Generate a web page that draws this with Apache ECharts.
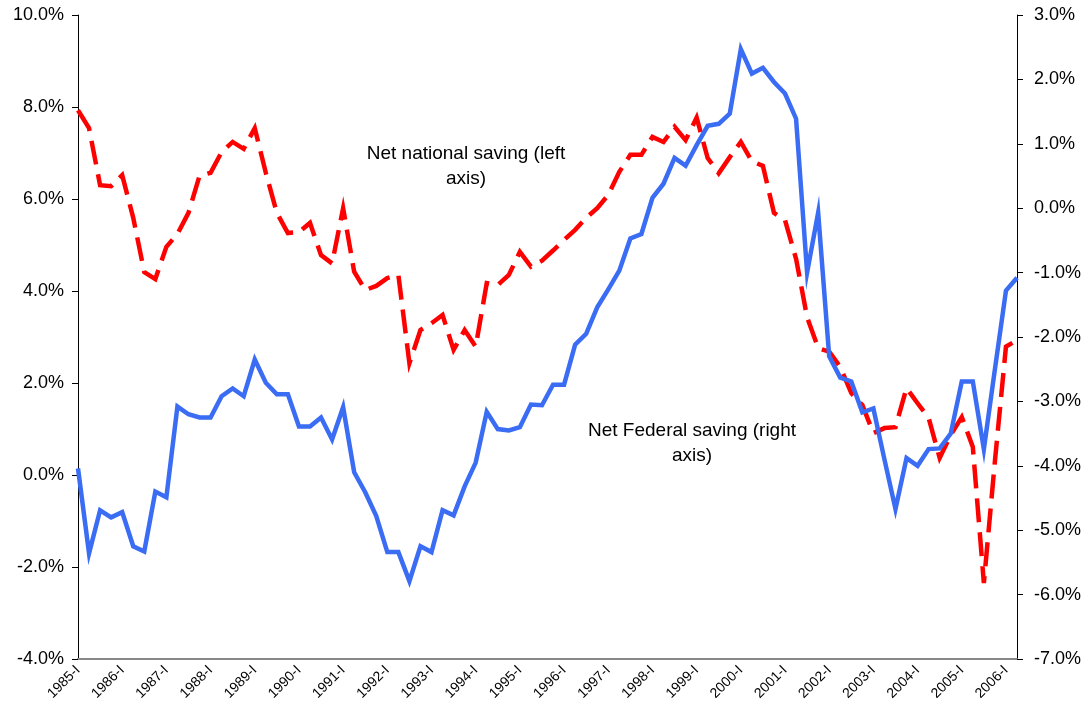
<!DOCTYPE html>
<html>
<head>
<meta charset="utf-8">
<script src="https://cdn.jsdelivr.net/npm/echarts@6/dist/echarts.min.js"></script>
<style>
  html, body { margin: 0; padding: 0; background: #fff; }
  #chart { width: 1090px; height: 721px; }
</style>
</head>
<body>
<div id="chart"></div>
<script>
// quarters 1985-I .. 2006-II
const years = [1985, 1986, 1987, 1988, 1989, 1990, 1991, 1992, 1993, 1994, 1995,
  1996, 1997, 1998, 1999, 2000, 2001, 2002, 2003, 2004, 2005, 2006];
const quarterNames = ["I", "II", "III", "IV"];
const lastQuarters = 2; // 2006 ends at II

// net national saving, % (left axis)
const nationalSaving = [
  7.93, 7.54, 6.30, 6.28, 6.52, 5.59, 4.41, 4.26, 4.96, 5.24, 5.70, 6.50,
  6.57, 7.02, 7.24, 7.09, 7.54, 6.57, 5.70, 5.26, 5.28, 5.48, 4.78, 4.60,
  5.80, 4.42, 4.02, 4.11, 4.28, 4.35, 2.43, 3.15, 3.30, 3.48, 2.72, 3.15,
  2.79, 4.17, 4.13, 4.35, 4.85, 4.53, 4.66, 4.88, 5.11, 5.33, 5.59, 5.80,
  6.09, 6.59, 6.96, 6.96, 7.35, 7.24, 7.57, 7.28, 7.77, 6.89, 6.56, 6.91,
  7.24, 6.82, 6.72, 5.70, 5.54, 4.70, 3.43, 2.76, 2.68, 2.35, 1.78, 1.52,
  0.91, 1.02, 1.04, 1.89, 1.56, 1.24, 0.37, 0.87, 1.26, 0.61, -2.35, 0.30,
  2.79, 2.93
];

// net federal saving, % (right axis)
const federalSaving = [
  -4.04, -5.36, -4.69, -4.80, -4.72, -5.25, -5.33, -4.40, -4.49, -3.08, -3.20, -3.25,
  -3.25, -2.92, -2.80, -2.92, -2.35, -2.71, -2.89, -2.89, -3.39, -3.39, -3.25, -3.59,
  -3.09, -4.10, -4.41, -4.78, -5.34, -5.34, -5.79, -5.25, -5.34, -4.69, -4.77, -4.32,
  -3.95, -3.16, -3.43, -3.45, -3.40, -3.05, -3.06, -2.74, -2.74, -2.12, -1.95, -1.54,
  -1.26, -0.97, -0.47, -0.40, 0.16, 0.38, 0.78, 0.66, 0.98, 1.28, 1.31, 1.47,
  2.47, 2.09, 2.18, 1.96, 1.78, 1.39, -1.00, -0.07, -2.30, -2.63, -2.69, -3.17,
  -3.11, -3.90, -4.67, -3.88, -4.00, -3.74, -3.73, -3.50, -2.69, -2.69, -3.74, -2.50,
  -1.28, -1.08
];

const categories = [];
years.forEach((y, k) => {
  const n = k === years.length - 1 ? lastQuarters : 4;
  for (let q = 0; q < n; q++) categories.push(y + "-" + quarterNames[q]);
});

const pct = v => v.toFixed(1) + "%";
const font = "Liberation Sans, Arial, sans-serif";

const chart = echarts.init(document.getElementById("chart"), null, { renderer: "canvas" });
chart.setOption({
  animation: false,
  backgroundColor: "#fff",
  textStyle: { fontFamily: font },
  grid: { left: 78, right: 73, top: 15, bottom: 62, containLabel: false },
  xAxis: {
    type: "category",
    data: categories,
    boundaryGap: false,
    axisLine: { onZero: false, lineStyle: { color: "#888", width: 2 } },
    axisTick: { show: false },
    axisLabel: {
      interval: 3, rotate: 45, fontSize: 14, color: "#000", margin: 9, fontFamily: font
    },
    splitLine: { show: false }
  },
  yAxis: [
    {
      type: "value", min: -4, max: 10, interval: 2, position: "left",
      axisLine: { show: true, lineStyle: { color: "#000", width: 1 } },
      axisTick: { show: true, length: 6, lineStyle: { color: "#000" } },
      axisLabel: { formatter: pct, fontSize: 18, color: "#000", margin: 14, fontFamily: font },
      splitLine: { show: false }
    },
    {
      type: "value", min: -7, max: 3, interval: 1, position: "right",
      axisLine: { show: true, lineStyle: { color: "#000", width: 1 } },
      axisTick: { show: true, length: 6, lineStyle: { color: "#000" } },
      axisLabel: { formatter: pct, fontSize: 18, color: "#000", margin: 17, fontFamily: font },
      splitLine: { show: false }
    }
  ],
  series: [
    {
      name: "Net national saving",
      type: "line",
      yAxisIndex: 0,
      data: nationalSaving,
      symbol: "none",
      lineStyle: { color: "#ff0000", width: 4.5, type: [24, 10], cap: "butt", join: "miter" },
      z: 2
    },
    {
      name: "Net Federal saving",
      type: "line",
      yAxisIndex: 1,
      data: federalSaving,
      symbol: "none",
      lineStyle: { color: "#3a6cf4", width: 4.5, join: "miter" },
      z: 3
    }
  ],
  graphic: [
    {
      type: "text", x: 466, y: 166, silent: true,
      style: {
        text: "Net national saving (left\naxis)", fill: "#000", font: "19px " + font,
        align: "center", verticalAlign: "middle", lineHeight: 25
      }
    },
    {
      type: "text", x: 692, y: 443, silent: true,
      style: {
        text: "Net Federal saving (right\naxis)", fill: "#000", font: "19px " + font,
        align: "center", verticalAlign: "middle", lineHeight: 25
      }
    }
  ]
});
</script>
</body>
</html>
